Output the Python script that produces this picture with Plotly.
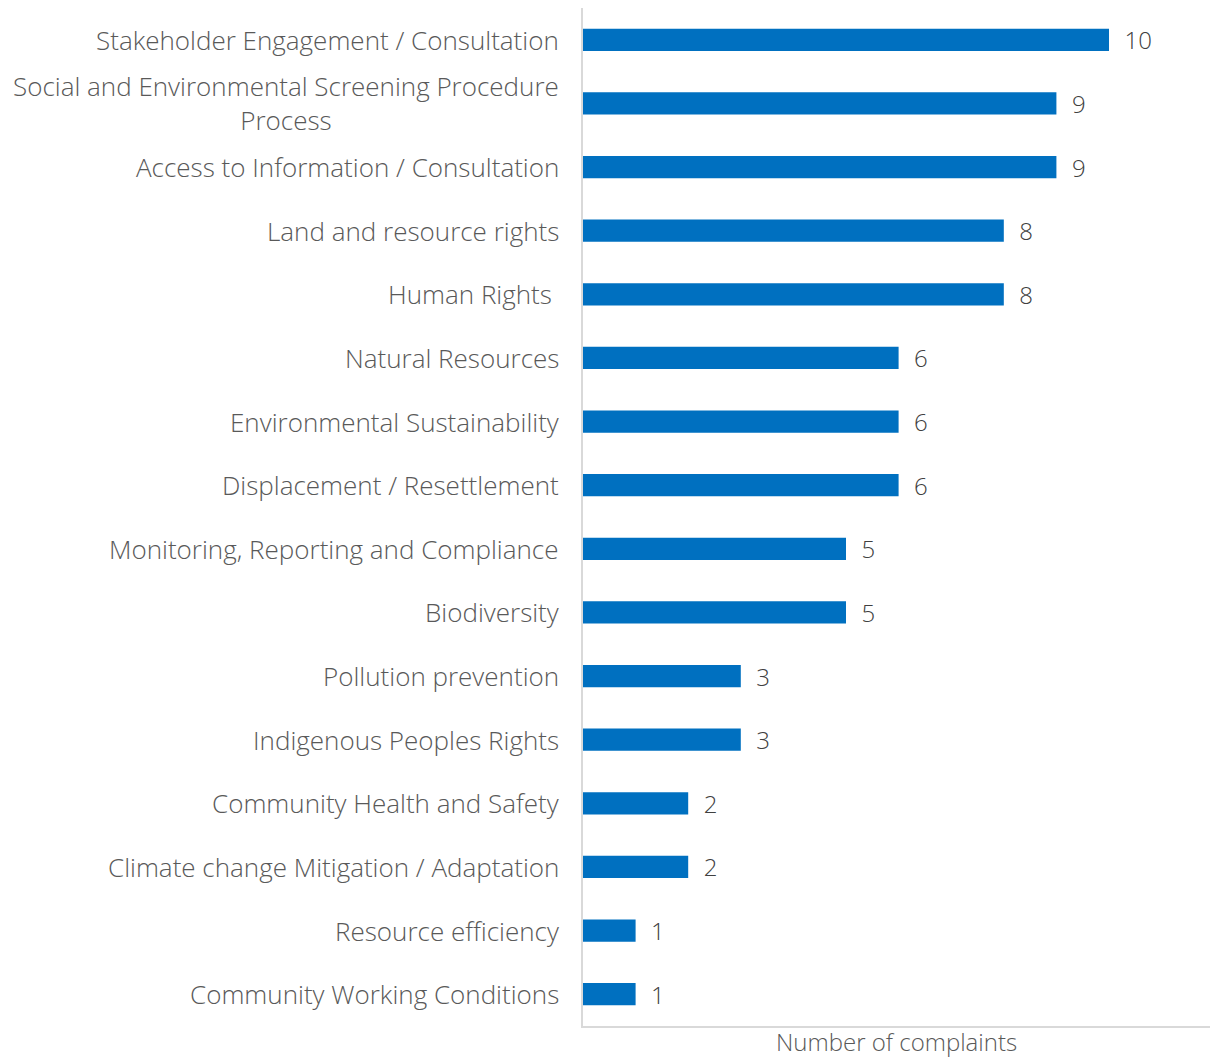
import plotly.graph_objects as go

categories = [
    "Stakeholder Engagement / Consultation",
    "Social and Environmental Screening Procedure<br>Process",
    "Access to Information / Consultation",
    "Land and resource rights",
    "Human Rights\u00a0",
    "Natural Resources",
    "Environmental Sustainability",
    "Displacement / Resettlement",
    "Monitoring, Reporting and Compliance",
    "Biodiversity",
    "Pollution prevention",
    "Indigenous Peoples Rights",
    "Community Health and Safety",
    "Climate change Mitigation / Adaptation",
    "Resource efficiency",
    "Community Working Conditions",
]
values = [10, 9, 9, 8, 8, 6, 6, 6, 5, 5, 3, 3, 2, 2, 1, 1]
axis_title = "Number of complaints"

FONT = "Open Sans"
TXT = "#595959"
LABEL_GAP = 22

fig = go.Figure()
fig.add_trace(go.Bar(
    y=list(range(len(categories))),
    x=values,
    orientation="h",
    marker=dict(color="#0070C0", line=dict(width=0)),
    width=0.35,
    text=values,
    texttemplate="\u00a0\u00a0%{x}",
    textposition="outside",
    constraintext="none",
    textfont=dict(family=FONT, size=24, color="#404040", weight=300),
    cliponaxis=False,
    hoverinfo="skip",
))

annotations = []
label_font = dict(family=FONT, size=26, color=TXT, weight=300)
for i, c in enumerate(categories):
    annotations.append(dict(
        xref="paper", yref="y", x=0, y=i, xanchor="right", yanchor="middle",
        xshift=-LABEL_GAP, text=c, showarrow=False, align="center",
        font=label_font,
    ))
annotations.append(dict(
    xref="paper", yref="paper", x=0.5, y=0, xanchor="center", yanchor="middle",
    yshift=-15, text=axis_title, showarrow=False,
    font=dict(family=FONT, size=24, color=TXT, weight=300),
))

fig.update_layout(
    width=1210, height=1059,
    margin=dict(l=583, r=0, t=8, b=33),
    paper_bgcolor="white", plot_bgcolor="white",
    showlegend=False,
    annotations=annotations,
    xaxis=dict(range=[0, 11.92], showgrid=False, zeroline=False,
               showticklabels=False, ticks="", showline=True,
               linecolor="#D9D9D9", linewidth=1.5),
    yaxis=dict(range=[len(categories) - 0.5, -0.5], showgrid=False,
               zeroline=False, showticklabels=False, ticks="",
               showline=True, linecolor="#D9D9D9", linewidth=1.5),
)

fig.write_html("out.html")
